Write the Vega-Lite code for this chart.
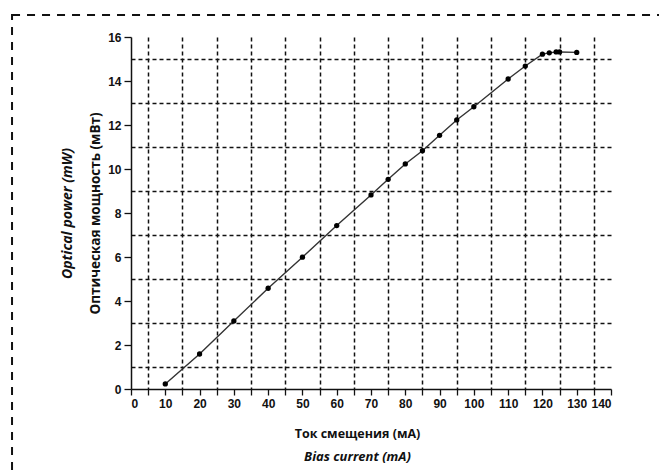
{
  "$schema": "https://vega.github.io/schema/vega-lite/v6.json",
  "width": 480,
  "height": 352,
  "autosize": {"type": "none"},
  "padding": {"left": 131, "top": 37, "right": 48, "bottom": 84},
  "background": "white",
  "config": {"view": {"stroke": null}},
  "data": {
    "values": [
      {"current": 10, "power": 0.23},
      {"current": 20, "power": 1.59},
      {"current": 30, "power": 3.09},
      {"current": 40, "power": 4.58},
      {"current": 50, "power": 5.99},
      {"current": 60, "power": 7.43},
      {"current": 70, "power": 8.82},
      {"current": 75, "power": 9.53},
      {"current": 80, "power": 10.23},
      {"current": 85, "power": 10.83},
      {"current": 90, "power": 11.53},
      {"current": 95, "power": 12.23},
      {"current": 100, "power": 12.83},
      {"current": 110, "power": 14.09},
      {"current": 115, "power": 14.68},
      {"current": 120, "power": 15.22},
      {"current": 122, "power": 15.28},
      {"current": 124, "power": 15.32},
      {"current": 125, "power": 15.32},
      {"current": 130, "power": 15.3}
    ]
  },
  "resolve": {"axis": {"x": "independent", "y": "independent"}},
  "layer": [
    {
      "data": {"values": [{}]},
      "mark": {"type": "rect", "filled": false, "stroke": "#111111", "strokeWidth": 2, "strokeDash": [8, 7]},
      "encoding": {
        "x": {"datum": -34.7, "type": "quantitative", "scale": {"domain": [0, 140], "nice": false}, "axis": null},
        "x2": {"datum": 175},
        "y": {"datum": 17, "type": "quantitative", "scale": {"domain": [0, 16], "nice": false}, "axis": null},
        "y2": {"datum": -6}
      }
    },
    {
      "mark": {"type": "line", "color": "#333333", "strokeWidth": 1.4},
      "encoding": {
        "x": {
          "field": "current",
          "type": "quantitative",
          "scale": {"domain": [0, 140], "nice": false},
          "axis": {
            "orient": "bottom",
            "values": [0, 5, 10, 15, 20, 25, 30, 35, 40, 45, 50, 55, 60, 65, 70, 75, 80, 85, 90, 95, 100, 105, 110, 115, 120, 125, 130, 135, 140],
            "labelExpr": "datum.value % 10 === 0 ? datum.label : ''",
            "labelOverlap": false,
            "labelFont": "Liberation Sans",
            "labelFontWeight": "bold",
            "labelFontSize": 12,
            "labelColor": "#111111",
            "labelPadding": 3,
            "tickSize": 6,
            "tickColor": "#111111",
            "tickWidth": 1.3,
            "domainColor": "#111111",
            "domainWidth": 1.5,
            "grid": true,
            "gridColor": "#111111",
            "gridWidth": 1.5,
            "gridDash": [4, 3],
            "gridOpacity": {"condition": {"test": "datum.value % 10 === 5", "value": 1}, "value": 0},
            "title": "Ток смещения (мА)",
            "titleFont": "Open Sans",
            "titleFontWeight": "bold",
            "titleFontSize": 12.5,
            "titleColor": "#111111",
            "titleBaseline": "top",
            "titleX": 226,
            "titleY": 38
          }
        },
        "y": {
          "field": "power",
          "type": "quantitative",
          "scale": {"domain": [0, 16], "nice": false},
          "axis": {
            "orient": "left",
            "values": [0, 1, 2, 3, 4, 5, 6, 7, 8, 9, 10, 11, 12, 13, 14, 15, 16],
            "labelExpr": "datum.value % 2 === 0 ? datum.label : ''",
            "labelOverlap": false,
            "labelFont": "Liberation Sans",
            "labelFontWeight": "bold",
            "labelFontSize": 12,
            "labelColor": "#111111",
            "labelPadding": 3,
            "tickSize": 7,
            "tickColor": "#111111",
            "tickWidth": 1.3,
            "tickOpacity": {"condition": {"test": "datum.value % 2 === 0", "value": 1}, "value": 0},
            "domainColor": "#111111",
            "domainWidth": 1.5,
            "grid": true,
            "gridColor": "#111111",
            "gridWidth": 1.5,
            "gridDash": [4, 3],
            "gridOpacity": {"condition": {"test": "datum.value % 2 === 1", "value": 1}, "value": 0},
            "title": "Оптическая мощность (мВт)",
            "titleFont": "Open Sans",
            "titleFontWeight": "bold",
            "titleFontSize": 13.5,
            "titleColor": "#111111",
            "titleAngle": 270,
            "titleBaseline": "middle",
            "titleAlign": "center",
            "titleX": -36,
            "titleY": 176
          }
        }
      }
    },
    {
      "mark": {"type": "circle", "color": "#000000", "opacity": 1, "size": 28},
      "encoding": {
        "x": {
          "field": "current",
          "type": "quantitative",
          "scale": {"domain": [0, 140], "nice": false},
          "axis": {
            "orient": "bottom",
            "labels": false,
            "ticks": false,
            "domain": false,
            "grid": false,
            "title": "Bias current (mA)",
            "titleFont": "Open Sans",
            "titleFontStyle": "italic",
            "titleFontWeight": "bold",
            "titleFontSize": 13,
            "titleColor": "#111111",
            "titleBaseline": "top",
            "titleX": 226,
            "titleY": 61
          }
        },
        "y": {
          "field": "power",
          "type": "quantitative",
          "scale": {"domain": [0, 16], "nice": false},
          "axis": {
            "orient": "left",
            "labels": false,
            "ticks": false,
            "domain": false,
            "grid": false,
            "title": "Optical power (mW)",
            "titleFont": "Open Sans",
            "titleFontStyle": "italic",
            "titleFontWeight": "bold",
            "titleFontSize": 14,
            "titleColor": "#111111",
            "titleAngle": 270,
            "titleBaseline": "middle",
            "titleAlign": "center",
            "titleX": -64,
            "titleY": 176
          }
        }
      }
    }
  ]
}
